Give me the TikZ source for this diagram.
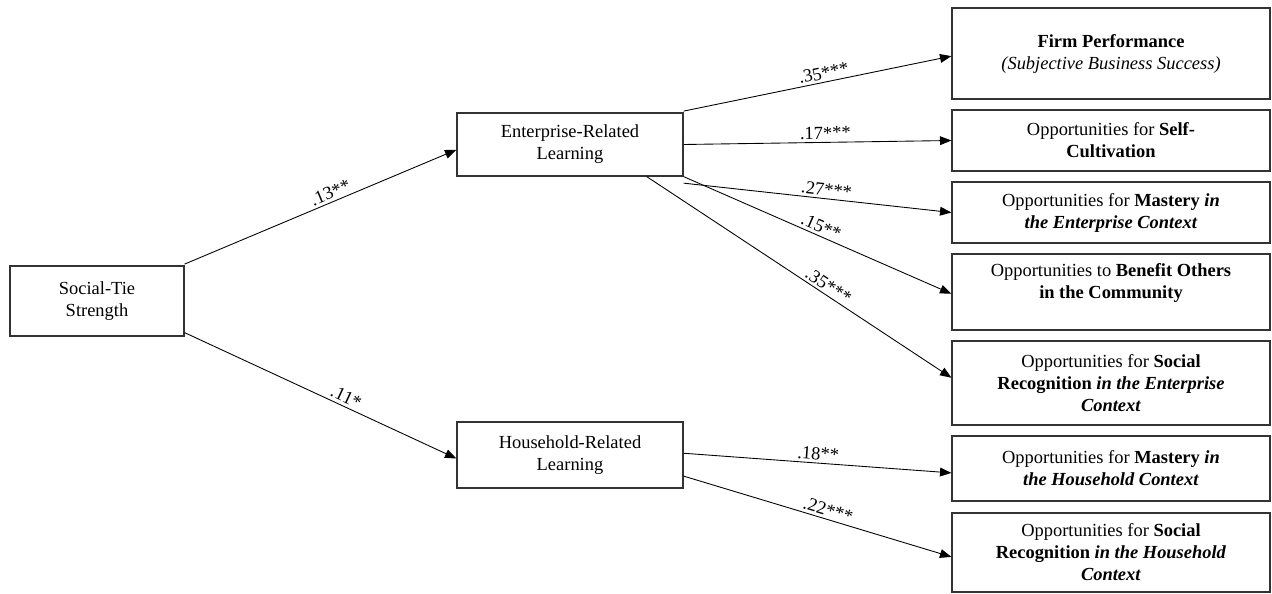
\documentclass[tikz,border=0pt]{standalone}
\usepackage{fontspec}
\setmainfont{Liberation Serif}
\usetikzlibrary{arrows.meta,positioning}
\tikzset{
  box/.style={draw=black!80, line width=0.7pt, align=center, inner sep=2pt,
    font=\fontsize{10.5}{12.5}\selectfont},
  coef/.style={font=\fontsize{10.5}{12.5}\selectfont, sloped, above, inner sep=1.5pt},
  arr/.style={-{Triangle[length=6.5pt,width=5pt]}, line width=0.5pt}
}

\begin{document}
\begin{tikzpicture}[x=0.02cm,y=0.02cm]
\useasboundingbox (0,0) rectangle (1272,593);

% ---------------- Predictor and mediators ----------------
\node[box, minimum width=3.48cm, minimum height=1.4cm] (soc) at (97,292) {Social-Tie\\Strength};
\node[box, minimum width=4.52cm, minimum height=1.26cm] (ent) at (570,448.5) {Enterprise-Related\\Learning};
\node[box, minimum width=4.52cm, minimum height=1.32cm] (hh) at (570,138) {Household-Related\\Learning};

% ---------------- Outcomes ----------------
\node[box, minimum width=6.36cm, minimum height=1.82cm] (firm) at (1111,539.5)
  {\textbf{Firm Performance}\\\textit{(Subjective Business Success)}};
\node[box, minimum width=6.36cm, minimum height=1.22cm] (self) at (1111,452.5)
  {Opportunities for \textbf{Self-}\\\textbf{Cultivation}};
\node[box, minimum width=6.36cm, minimum height=1.22cm] (mastE) at (1111,380.5)
  {Opportunities for \textbf{Mastery \textit{in}}\\\textbf{\textit{the Enterprise Context}}};
\node[box, minimum width=6.36cm, minimum height=1.52cm, text depth=12pt] (benef) at (1111,301)
  {Opportunities to \textbf{Benefit Others}\\\textbf{in the Community}};
\node[box, minimum width=6.36cm, minimum height=1.68cm] (socE) at (1111,210)
  {Opportunities for \textbf{Social}\\\textbf{Recognition \textit{in the Enterprise}}\\\textbf{\textit{Context}}};
\node[box, minimum width=6.36cm, minimum height=1.3cm] (mastH) at (1111,124.5)
  {Opportunities for \textbf{Mastery \textit{in}}\\\textbf{\textit{the Household Context}}};
\node[box, minimum width=6.36cm, minimum height=1.58cm] (socH) at (1111,40.5)
  {Opportunities for \textbf{Social}\\\textbf{Recognition \textit{in the Household}}\\\textbf{\textit{Context}}};

% ---------------- Paths ----------------
\draw[arr] ([yshift=21]soc.east) -- node[coef, pos=0.55] {.13**} ([yshift=-3]ent.west);
\draw[arr] ([yshift=-18]soc.east) -- node[coef, pos=0.58] {.11*} ([yshift=-2]hh.west);

\draw[arr] ([yshift=19]ent.east) -- node[coef, pos=0.53] {.35***} ([yshift=-1.5]firm.west);
\draw[arr] (ent.east) -- node[coef, pos=0.53] {.17***} (self.west);
\draw[arr] ([yshift=-22]ent.east) -- node[coef, pos=0.53] {.27***} (mastE.west);
\draw[arr] (ent.south east) -- node[coef, pos=0.5] {.15**} ([yshift=-1]benef.west);
\draw[arr] ([xshift=-21]ent.south east) -- node[coef, pos=0.58] {.35***} ([yshift=3]socE.west);

\draw[arr] ([yshift=1]hh.east) -- node[coef, pos=0.5] {.18**} ([yshift=-2.5]mastH.west);
\draw[arr] ([yshift=-12]hh.east) -- node[coef, pos=0.53] {.22***} ([yshift=-2.5]socH.west);

\end{tikzpicture}
\end{document}
